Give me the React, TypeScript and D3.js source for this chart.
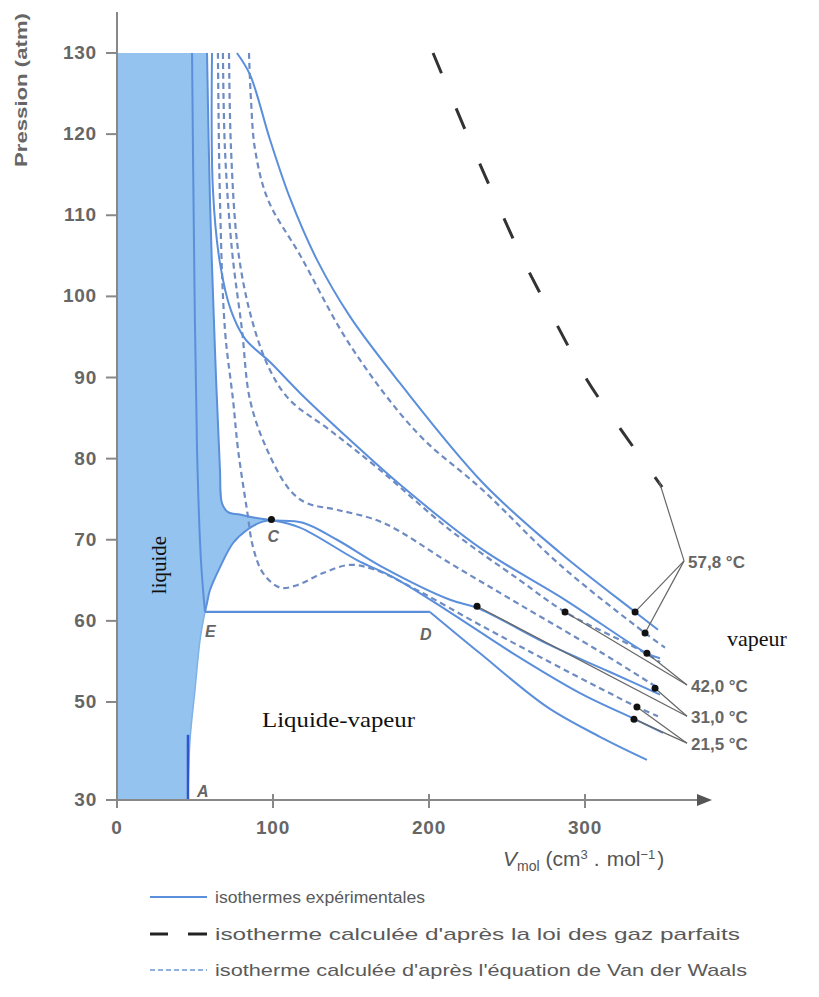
import React from 'react';
import * as d3 from 'd3';

type Pt = [number, number];

const yTicks = [30, 50, 60, 70, 80, 90, 100, 110, 120, 130];
const xTicks = [0, 100, 200, 300];

// Experimental isotherms (V cm3/mol, P atm)
const expt578: Pt[] = [[76.9,130],[85.3,127.3],[98.1,119.3],[110.9,112.1],[128.2,104.5],[149.4,97.5],[181.4,89.3],[234.6,77.0],[284.0,68.4],[332.1,61.1],[346.8,58.9]];
const expt420: Pt[] = [[60.9,130],[61.5,113.1],[66.0,104.1],[73.0,98.3],[82.0,94.8],[98.1,91.9],[117.3,88.1],[149.4,82.3],[181.4,76.8],[232.7,69.0],[287.2,62.6],[339.7,56.0],[348.1,55.4]];
const expt310: Pt[] = [[57.7,130],[59.6,111.9],[62.8,93.4],[66.0,78.6],[67.3,74.5],[71.2,73.4],[78.8,73.1],[88.5,72.7],[100.0,72.4],[119.2,72.1],[141.0,70.0],[170.5,66.6],[213.5,62.6],[230.8,61.6],[277.6,57.0],[316.0,53.7],[348.1,50.9]];
const expt215Liquid: Pt[] = [[48.1,130],[49.4,105.7],[51.3,81.1],[53.8,67.5],[56.4,61.1]];
const expt215Plateau: Pt[] = [[56.4,61.1],[200.6,61.1]];
const expt215Vapour: Pt[] = [[200.6,61.1],[232.7,56.0],[275.6,49.0],[309.6,42.9],[339.7,38.2]];
const domeLeft: Pt[] = [[56.4,61.1],[57.7,62.2],[59.6,63.8],[66.0,66.6],[74.4,69.6],[83.3,71.2],[92.9,72.2],[99.4,72.4]];
const domeRight: Pt[] = [[99.4,72.4],[117.3,71.5],[153.8,67.5],[176.9,65.4],[211.5,61.3],[253.8,56.0],[296.8,51.1],[333.3,46.3],[350.0,43.7]];
const liquidEdge: Pt[] = [[56.4,61.1],[53.2,57.6],[50.0,51.5],[46.8,42.2],[45.5,30]];
const segmentA: Pt[] = [[45.5,43.3],[45.5,30]];

// Van der Waals isotherms
const vdw578: Pt[] = [[84.6,130],[85.9,124.2],[88.5,118.1],[96.8,111.9],[117.3,105.1],[149.4,94.0],[192.3,83.2],[234.6,76.1],[284.0,66.9],[338.5,58.5],[351.3,56.7]];
const vdw420: Pt[] = [[71.8,130],[73.1,118.1],[77.6,105.7],[86.5,97.1],[98.1,90.9],[110.9,87.2],[136.5,83.5],[168.6,78.6],[213.5,71.2],[258.3,65.0],[287.2,61.1],[335.3,56.4],[348.1,54.9]];
const vdw310: Pt[] = [[67.9,130],[69.2,118.1],[73.7,105.7],[80.1,95.9],[85.3,87.2],[96.2,81.1],[110.9,76.1],[121.8,74.5],[141.0,73.7],[170.5,72.1],[213.5,67.1],[258.3,62.0],[309.6,56.2],[346.2,51.8]];
const vdw215: Pt[] = [[64.7,130],[66.0,111.9],[69.2,95.9],[74.4,87.2],[77.6,81.1],[83.3,73.7],[87.2,69.1],[93.6,65.9],[104.5,64.1],[115.4,64.4],[132.1,65.9],[149.4,66.9],[165.4,66.3],[194.2,63.6],[232.7,59.5],[277.6,54.9],[309.6,51.7],[333.3,49.0],[346.8,47.1]];

// Ideal gas isotherm (57.8 °C)
const idealGas: Pt[] = [[202.6,130],[225,119.7],[242.3,112.1],[260.3,104.5],[282,96.5],[301.3,89.7],[324.4,83.2],[349.4,76.5]];

// Liquid region boundary
const liquidRegion: Pt[] = [[0,130],[57.7,130],[59.6,111.9],[62.8,93.4],[66.0,78.6],[67.3,74.5],[71.2,73.4],[78.8,73.1],[88.5,72.7],[99.4,72.4],[92.9,72.2],[83.3,71.2],[74.4,69.6],[66.0,66.6],[59.6,63.8],[57.7,62.2],[56.4,61.1],[53.2,57.6],[50.0,51.5],[46.8,42.2],[45.5,30],[0,30]];

// Marked points
const pointC: Pt = [99, 72.5];
const pointE: Pt = [56.4, 61.1];
const pointD: Pt = [200.6, 61.1];
const pointA: Pt = [45.5, 30];

const tempLabels = ['57,8 °C', '42,0 °C', '31,0 °C', '21,5 °C'];
const labelAnchors: Pt[] = [[363.5, 67.4], [365.4, 52.1], [365.4, 47.1], [365.4, 41.6]];
const labelDots: Pt[][] = [
  [[332.1, 61.1], [338.5, 58.5]],
  [[339.7, 56.0], [287.2, 61.1]],
  [[344.9, 51.7], [230.8, 61.8]],
  [[333.3, 49.0], [331.4, 46.5]],
];

const legendLabels = [
  'isothermes expérimentales',
  "isotherme calculée d'après la loi des gaz parfaits",
  "isotherme calculée d'après l'équation de Van der Waals",
];

const SOLID = '#5b8fdb';
const DASHED = '#6f8cc2';
const FILL = '#93c3ee';
const GREY = '#5a5a5a';
const SANS = "'Liberation Sans', Arial, sans-serif";
const SERIF = "'Liberation Serif', 'Times New Roman', serif";

export default function App() {
  const x = d3.scaleLinear().domain([0, 300]).range([117, 585]);
  const y = d3.scaleLinear().domain([30, 50, 130]).range([800, 702, 53]);
  const smooth = d3.line<Pt>().x(d => x(d[0])).y(d => y(d[1])).curve(d3.curveCatmullRom.alpha(0.5));
  const straight = d3.line<Pt>().x(d => x(d[0])).y(d => y(d[1]));

  const solids = [expt578, expt420, expt310, expt215Liquid, expt215Vapour, domeLeft, domeRight];
  const dashed = [vdw578, vdw420, vdw310, vdw215];

  const legendRows = [897, 934, 970];
  const legendWidths = [210, 525, 532];
  const idealEnd = idealGas[idealGas.length - 1];

  return (
    <svg width={819} height={997} style={{ position: 'absolute', left: 0, top: 0, background: '#fff' }}>
      <rect x={0} y={0} width={819} height={997} fill="#fff" />
      {/* liquid region */}
      <path d={straight(liquidRegion) || ''} fill={FILL} stroke="none" />
      <path d={smooth(liquidEdge) || ''} fill="none" stroke="#7fb2e6" strokeWidth={1.5} />

      {/* dashed VdW */}
      {dashed.map((d, i) => (
        <path key={'v' + i} d={smooth(d) || ''} fill="none" stroke={DASHED} strokeWidth={2.2} strokeDasharray="6 4" />
      ))}
      {/* experimental */}
      {solids.map((d, i) => (
        <path key={'s' + i} d={smooth(d) || ''} fill="none" stroke={SOLID} strokeWidth={2} />
      ))}
      <path d={straight(expt215Plateau) || ''} fill="none" stroke={SOLID} strokeWidth={2.2} />
      <path d={straight(segmentA) || ''} fill="none" stroke="#2f55d0" strokeWidth={2.5} />

      {/* ideal gas */}
      <path d={smooth(idealGas) || ''} fill="none" stroke="#333" strokeWidth={3} strokeDasharray="22 38" />

      {/* axes */}
      <line x1={x(0)} x2={x(0)} y1={12} y2={y(30)} stroke="#888" strokeWidth={2} />
      <line x1={x(0)} x2={700} y1={y(30)} y2={y(30)} stroke="#888" strokeWidth={2} />
      <polygon points={`697,${y(30) - 6} 712,${y(30)} 697,${y(30) + 6}`} fill="#555" />
      {yTicks.map(t => (
        <g key={'yt' + t}>
          <line x1={x(0) - 11} x2={x(0)} y1={y(t)} y2={y(t)} stroke="#888" strokeWidth={2} />
          <text x={x(0) - 20} y={y(t) + 6} textAnchor="end" fontFamily={SANS} fontWeight="bold" fontSize={19} letterSpacing={0.8} fill="#666">{t}</text>
        </g>
      ))}
      {xTicks.map(t => (
        <g key={'xt' + t}>
          <line x1={x(t)} x2={x(t)} y1={y(30) - 6} y2={y(30) + 8} stroke="#888" strokeWidth={2} />
          <text x={x(t)} y={834} textAnchor="middle" fontFamily={SANS} fontWeight="bold" fontSize={19} letterSpacing={0.8} fill="#666">{t}</text>
        </g>
      ))}
      <text transform="translate(27,90) rotate(-90)" textAnchor="middle" fontFamily={SANS} fontWeight="bold" fontSize={17} fill="#666" textLength={154} lengthAdjust="spacingAndGlyphs">Pression (atm)</text>
      <text x={503} y={866} fontFamily={SANS} fontSize={21} fill="#555">
        <tspan fontStyle="italic">V</tspan>
        <tspan fontSize={14} dy={5}>mol</tspan>
        <tspan dy={-5} dx={6}>(cm</tspan>
        <tspan fontSize={13} dy={-7}>3</tspan>
        <tspan dy={7} dx={6}>.</tspan>
        <tspan dx={7}>mol</tspan>
        <tspan fontSize={13} dy={-7}>−1</tspan>
        <tspan dy={7} dx={2}>)</tspan>
      </text>

      {/* leaders + dots */}
      {labelAnchors.map((a, i) => (
        <g key={'lab' + i}>
          {labelDots[i].map((p, j) => (
            <line key={j} x1={x(a[0])} y1={y(a[1])} x2={x(p[0])} y2={y(p[1])} stroke="#666" strokeWidth={1.2} />
          ))}
          {i === 0 && (
            <line x1={x(a[0])} y1={y(a[1])} x2={x(idealEnd[0]) - 3} y2={y(idealEnd[1]) - 6} stroke="#666" strokeWidth={1.2} />
          )}
          {labelDots[i].map((p, j) => (
            <circle key={'c' + j} cx={x(p[0])} cy={y(p[1])} r={3.5} fill="#111" />
          ))}
          <text x={x(a[0]) + 4} y={y(a[1]) + 7} fontFamily={SANS} fontWeight="bold" fontSize={17} fill="#666">{tempLabels[i]}</text>
        </g>
      ))}
      <circle cx={x(pointC[0])} cy={y(pointC[1])} r={3.5} fill="#111" />

      {/* point letters */}
      <text x={x(pointC[0]) - 4} y={y(pointC[1]) + 23} fontFamily={SANS} fontStyle="italic" fontWeight="bold" fontSize={16} fill="#666">C</text>
      <text x={x(pointE[0])} y={y(pointE[1]) + 25} fontFamily={SANS} fontStyle="italic" fontWeight="bold" fontSize={16} fill="#666">E</text>
      <text x={x(pointD[0]) - 10} y={y(pointD[1]) + 28} fontFamily={SANS} fontStyle="italic" fontWeight="bold" fontSize={16} fill="#666">D</text>
      <text x={x(pointA[0]) + 9} y={y(pointA[1]) - 3} fontFamily={SANS} fontStyle="italic" fontWeight="bold" fontSize={16} fill="#666">A</text>

      {/* region labels */}
      <text transform="translate(166,565) rotate(-90)" textAnchor="middle" fontFamily={SERIF} fontSize={21} fill="#111">liquide</text>
      <text x={262} y={727} fontFamily={SERIF} fontSize={22} fill="#111" textLength={153} lengthAdjust="spacingAndGlyphs">Liquide-vapeur</text>
      <text x={727} y={646} fontFamily={SERIF} fontSize={22} fill="#111">vapeur</text>

      {/* legend */}
      <line x1={150} x2={207} y1={legendRows[0]} y2={legendRows[0]} stroke={SOLID} strokeWidth={2.2} />
      <line x1={150} x2={168} y1={legendRows[1]} y2={legendRows[1]} stroke="#222" strokeWidth={3} />
      <line x1={188} x2={207} y1={legendRows[1]} y2={legendRows[1]} stroke="#222" strokeWidth={3} />
      <line x1={150} x2={207} y1={legendRows[2]} y2={legendRows[2]} stroke="#8fb0e2" strokeWidth={2.2} strokeDasharray="5 3" />
      {legendLabels.map((l, i) => (
        <text key={'lg' + i} x={215} y={legendRows[i] + 6} fontFamily={SANS} fontSize={17} fill={GREY} textLength={legendWidths[i]} lengthAdjust="spacingAndGlyphs">{l}</text>
      ))}
    </svg>
  );
}
